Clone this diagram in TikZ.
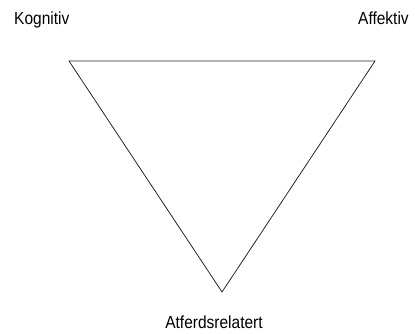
\documentclass[tikz,border=0pt]{standalone}
\usepackage{fontspec}
\setmainfont{Liberation Sans}
\begin{document}
\begin{tikzpicture}[x=1pt,y=1pt,
  lbl/.style={inner sep=0pt,font=\fontsize{15.5}{18}\selectfont,yscale=1.13,transform shape},
  edge/.style={line width=0.8pt,black!85}]
\useasboundingbox (0,0) rectangle (415,334);
\coordinate (tl) at (69,273);
\coordinate (tr) at (375,273);
\coordinate (b) at (222,42);
\draw[edge,line join=miter] (tl) -- (tr) -- (b) -- cycle;
\node[lbl,anchor=base west] (kog) at (14,309) {Kognitiv};
\node[lbl,anchor=base west] (aff) at (358,309) {Affektiv};
\node[lbl,anchor=base] (atf) at (214,5) {Atferdsrelatert};
\end{tikzpicture}
\end{document}
